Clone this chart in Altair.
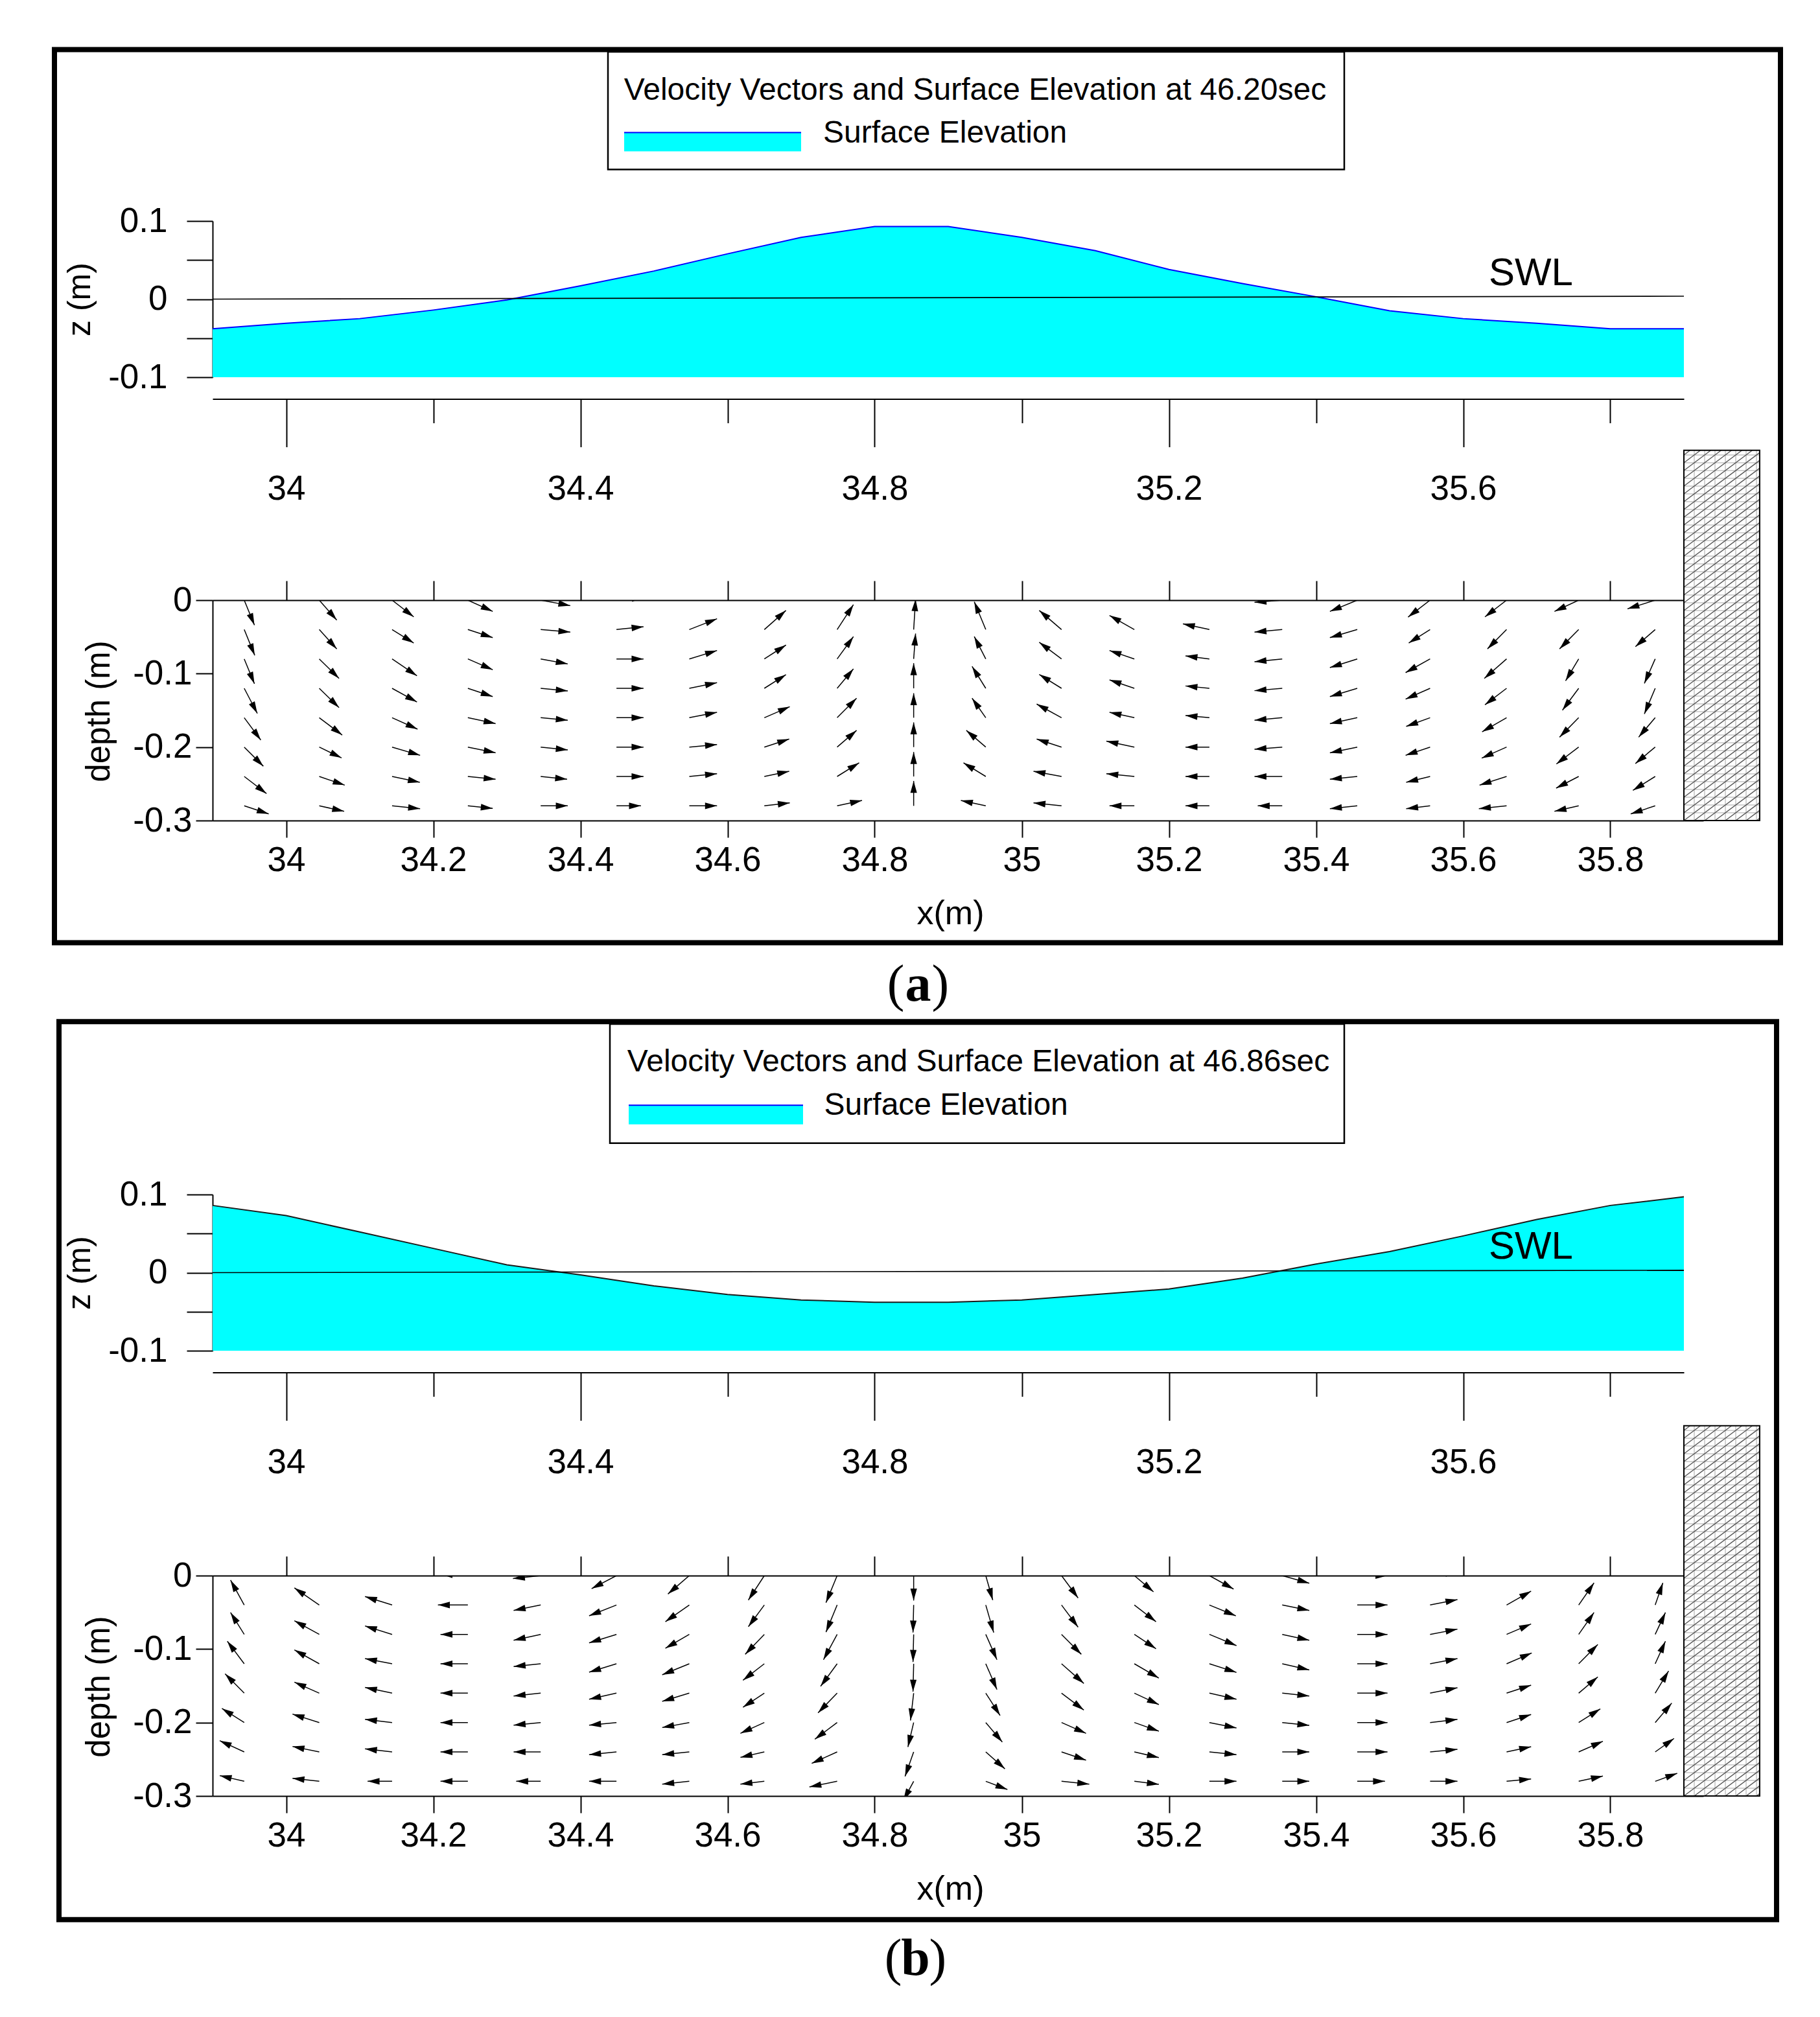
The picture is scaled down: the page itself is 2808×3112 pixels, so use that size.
import math
import numpy as np
import pandas as pd
import altair as alt

FONT = "Liberation Sans"
SERIF = "Liberation Serif"

# ---------------- data ----------------
X_SURF = [33.9, 34.0, 34.1, 34.2, 34.3, 34.4, 34.5, 34.6, 34.7, 34.8, 34.9,
          35.0, 35.1, 35.2, 35.3, 35.4, 35.5, 35.6, 35.7, 35.8, 35.9]
Z_SURF_A = [-0.038, -0.031, -0.025, -0.014, -0.001, 0.017, 0.036, 0.058, 0.079, 0.093, 0.093,
            0.079, 0.062, 0.038, 0.020, 0.003, -0.015, -0.025, -0.031, -0.038, -0.038]
Z_SURF_B = [0.086, 0.073, 0.052, 0.031, 0.010, -0.003, -0.017, -0.028, -0.035, -0.038, -0.038,
            -0.035, -0.028, -0.021, -0.007, 0.011, 0.027, 0.047, 0.068, 0.086, 0.097]

SWL_X = [33.9, 35.9]
SWL_Z_A = [0.0, 0.0037]
SWL_Z_B = [0.0, 0.0030]
SWL_LABEL_X = 35.692
SWL_LABEL_Z = 0.033

TITLE_A = "Velocity Vectors and Surface Elevation at 46.20sec"
TITLE_B = "Velocity Vectors and Surface Elevation at 46.86sec"
LEGEND_LABEL = "Surface Elevation"

COL_X = [33.943, 34.045, 34.144, 34.247, 34.346, 34.449, 34.548, 34.650, 34.749, 34.853,
         34.951, 35.054, 35.153, 35.255, 35.354, 35.456, 35.555, 35.659, 35.757, 35.861]
ROW_Z = [0.0, -0.04, -0.08, -0.12, -0.16, -0.20, -0.24, -0.28]

# arrow components (mm of plot length), rows = ROW_Z, columns = COL_X
U_A = [
    [13.9, 23.8, 29.4, 33.8, 40.3, 37.0, 37.7, 29.0, 22.0, 2.0, -15.6, -30.0, -34.0, -36.0, -37.7, -37.2, -29.9, -29.4, -32.9, -37.7],
    [14.3, 23.8, 29.4, 33.8, 40.3, 36.8, 37.7, 29.4, 22.1, 2.6, -15.6, -30.3, -33.8, -36.0, -37.7, -37.2, -29.0, -26.0, -26.0, -26.9],
    [13.9, 26.9, 33.8, 33.8, 36.8, 36.8, 37.7, 29.4, 22.1, 2.6, -15.6, -30.3, -33.8, -32.5, -37.7, -37.2, -33.3, -30.3, -17.8, -14.7],
    [17.8, 26.9, 33.8, 33.8, 36.8, 36.8, 37.7, 29.4, 22.1, 0.0, -18.6, -30.3, -33.8, -32.5, -37.7, -37.2, -33.3, -29.4, -22.1, -14.7],
    [22.5, 31.2, 34.6, 37.7, 36.8, 36.8, 37.7, 34.6, 26.4, 0.0, -18.6, -33.8, -33.8, -32.5, -37.7, -37.2, -32.5, -33.3, -26.0, -22.5],
    [26.0, 30.3, 38.1, 37.7, 36.8, 36.8, 37.7, 33.8, 26.4, 0.0, -26.4, -33.8, -38.1, -32.5, -37.7, -37.2, -33.3, -33.8, -30.3, -26.9],
    [30.3, 34.6, 37.7, 37.7, 35.9, 36.8, 37.7, 33.8, 29.9, 0.0, -30.3, -38.1, -38.1, -32.5, -37.7, -37.2, -32.5, -36.8, -30.7, -30.3],
    [33.3, 33.8, 38.1, 33.8, 36.8, 33.3, 37.7, 34.6, 33.8, 0.0, -33.8, -38.1, -33.8, -32.5, -33.3, -37.2, -32.5, -37.7, -32.9, -33.3],
]
W_A = [
    [-33.9, -27.1, -22.7, -15.3, -7.4, 4.0, 17.0, 28.0, 34.0, 41.0, 38.0, 26.0, 19.0, 8.0, -2.9, -15.3, -23.0, -22.7, -15.3, -11.8],
    [-35.1, -26.5, -18.3, -10.9, -3.5, 3.8, 14.7, 26.0, 33.9, 41.3, 37.8, 26.0, 19.2, 7.7, -3.5, -10.9, -18.3, -26.3, -26.3, -23.3],
    [-33.9, -26.5, -23.0, -14.7, -6.8, 0.0, 11.5, 18.9, 30.4, 34.5, 30.4, 22.7, 11.5, 4.1, -3.8, -11.8, -18.6, -26.5, -29.8, -33.3],
    [-34.2, -26.3, -18.6, -11.2, -3.5, 0.0, 7.7, 18.6, 26.5, 34.2, 29.8, 18.9, 11.5, 3.2, -3.2, -11.2, -14.7, -22.4, -29.8, -34.8],
    [-30.4, -23.6, -15.6, -8.0, -3.5, 0.0, 7.4, 15.0, 26.5, 33.3, 26.5, 18.6, 7.4, 3.0, -3.5, -8.0, -11.8, -19.2, -26.5, -26.5],
    [-26.0, -14.7, -11.2, -7.7, -3.8, 0.0, 3.5, 10.9, 22.7, 33.6, 22.7, 10.9, 8.0, 0.0, -2.9, -7.7, -11.2, -15.0, -23.0, -22.4],
    [-23.3, -11.8, -8.0, -3.8, -3.8, 0.0, 3.8, 7.1, 18.6, 33.3, 18.6, 7.1, 3.8, 0.0, 0.0, -3.8, -8.0, -11.8, -15.9, -18.9],
    [-10.9, -7.4, -3.8, -3.5, 0.0, 0.0, 0.0, 4.1, 7.4, 33.9, 7.4, 4.1, 0.0, 0.0, 0.0, -3.8, -3.8, -3.8, -7.4, -10.9],
]
U_B = [
    [-18.6, -33.8, -36.8, -37.0, -37.7, -33.8, -29.0, -21.7, -15.2, 0.0, 9.5, 22.5, 26.0, 32.9, 36.8, 41.0, 37.0, 33.0, 21.0, 10.0],
    [-18.6, -33.8, -36.8, -40.7, -36.8, -37.2, -32.5, -21.7, -15.2, -0.9, 10.8, 22.5, 29.4, 35.9, 36.8, 41.1, 37.2, 33.3, 20.8, 10.4],
    [-18.6, -33.8, -36.8, -37.2, -36.8, -37.2, -32.5, -26.0, -18.6, -0.9, 15.2, 26.9, 29.4, 36.8, 36.8, 41.1, 37.2, 33.3, 20.8, 13.9],
    [-23.0, -33.8, -36.8, -37.2, -36.8, -37.2, -36.8, -29.0, -22.5, -0.9, 15.2, 30.3, 33.3, 36.8, 36.8, 41.1, 37.2, 34.2, 26.0, 13.9],
    [-26.0, -33.8, -36.8, -37.2, -36.8, -37.2, -36.8, -29.0, -26.0, -4.3, 19.5, 30.3, 33.3, 36.8, 36.8, 41.1, 37.2, 33.3, 26.0, 18.2],
    [-30.3, -36.4, -36.8, -37.2, -36.8, -37.2, -36.8, -32.5, -30.3, -7.8, 22.5, 33.3, 33.3, 36.8, 36.8, 41.1, 37.2, 33.3, 29.4, 22.5],
    [-33.3, -36.4, -36.8, -37.2, -36.8, -37.2, -36.8, -32.5, -34.6, -11.7, 26.0, 33.3, 33.3, 36.8, 36.8, 41.1, 37.2, 33.3, 32.9, 25.6],
    [-33.3, -36.4, -33.3, -37.2, -33.3, -37.2, -36.8, -32.5, -37.7, -14.0, 29.4, 37.7, 33.3, 36.8, 36.8, 37.7, 37.2, 33.3, 32.9, 29.9],
]
W_B = [
    [34.0, 23.0, 11.5, 2.0, -4.0, -17.7, -25.0, -33.3, -36.9, -33.9, -33.3, -30.4, -22.1, -18.3, -10.3, 0.0, 5.0, 19.0, 30.0, 30.0],
    [33.9, 23.3, 11.5, 0.0, -7.4, -14.7, -22.7, -29.5, -36.9, -37.5, -37.5, -30.1, -22.7, -14.7, -7.4, 0.0, 7.4, 18.9, 30.1, 30.1],
    [29.8, 18.6, 11.5, 0.0, -8.0, -11.5, -18.9, -27.1, -34.5, -37.5, -34.5, -27.1, -19.5, -15.3, -8.0, 0.0, 7.1, 14.2, 29.8, 29.8],
    [30.7, 18.9, 7.1, 0.0, -3.8, -11.5, -15.0, -22.4, -30.7, -38.0, -35.1, -26.8, -19.5, -11.8, -8.3, 0.0, 7.1, 14.7, 26.3, 30.7],
    [26.3, 15.0, 7.7, 0.0, -3.8, -8.3, -11.2, -19.2, -26.8, -37.2, -30.4, -23.0, -15.6, -8.3, -3.8, 0.0, 7.4, 10.9, 22.1, 30.1],
    [19.2, 11.5, 4.4, 0.0, -3.5, -3.5, -6.8, -14.7, -22.7, -33.3, -26.5, -14.7, -11.8, -7.4, -3.8, 0.0, 4.4, 10.9, 18.6, 26.5],
    [15.3, 7.4, 4.1, 0.0, 0.0, -3.8, -3.8, -7.4, -15.6, -33.3, -23.0, -11.2, -7.7, -3.8, 0.0, 0.0, 3.5, 7.1, 14.5, 18.3],
    [7.7, 4.1, 0.0, 0.0, 0.0, 0.0, -3.8, -3.8, -7.7, -26.0, -11.2, -3.8, -4.1, 0.0, 0.0, 0.0, 0.0, 3.2, 7.1, 10.9],
]

WALL_X = [35.9, 36.003]
WALL_Z = [-0.3, 0.204]

X_MAJOR = [34.0, 34.4, 34.8, 35.2, 35.6]
X_MINOR = [34.2, 34.6, 35.0, 35.4, 35.8]
X_TICKS = [34.0, 34.2, 34.4, 34.6, 34.8, 35.0, 35.2, 35.4, 35.6, 35.8]
Z_TICKS = [0.1, 0.05, 0.0, -0.05, -0.1]
DEPTH_TICKS = [0.0, -0.1, -0.2, -0.3]

# ---------------- geometry / style ----------------
W = 2270
H_SURF = 241
H_VEC = 340
PXM_X = W / 2.0
PXM_Z = H_VEC / 0.3
ONE = pd.DataFrame({"k": [0]})
HEAD = "M0,0L0.55,2L-0.55,2Z"

XS = alt.Scale(domain=[33.9, 35.9], nice=False, zero=False)
YS_SURF = alt.Scale(domain=[-0.1, 0.1], nice=False, zero=False)
YS_VEC = alt.Scale(domain=[-0.3, 0.0], nice=False, zero=False)


def box(x1, x2, y1, y2, sw, color="black"):
    return alt.Chart(ONE).mark_rect(fillOpacity=0, stroke=color, strokeWidth=sw).encode(
        x=alt.value(x1), x2=alt.value(x2), y=alt.value(y1), y2=alt.value(y2))


def label(txt, x, y, size, align="center", font=FONT, weight="normal", baseline="middle"):
    return alt.Chart(ONE).mark_text(text=txt, font=font, fontSize=size, fontWeight=weight,
                                    align=align, baseline=baseline, color="black").encode(
        x=alt.value(x), y=alt.value(y))


def surf_chart(zvals, swl_z, title, line_color, d):
    df = pd.DataFrame({"x": X_SURF, "z": zvals})
    y_axis = alt.Axis(orient="left", values=Z_TICKS, tickSize=40, labelPadding=30, labelFontSize=53,
                      labelExpr="datum.value > 0.07 ? '0.1' : (datum.value < -0.07 ? '-0.1' : (abs(datum.value) < 0.01 ? '0' : ''))",
                      labelFlush=False, labelOverlap=False,
                      title="z (m)", titleFontSize=50, titleAngle=270, titleX=-205, titleY=120.5,
                      titleAlign="center", titleBaseline="middle")
    x_major = alt.Axis(orient="bottom", offset=33.5, values=X_MAJOR, format="~g", tickSize=74,
                       labelPadding=65, labelBaseline="middle", labelFontSize=53, labelFlush=False,
                       labelOverlap=False, title=None)
    x_minor = alt.Axis(orient="bottom", offset=33.5, values=X_MINOR, tickSize=37, labels=False,
                       domain=False, title=None)
    area = alt.Chart(df).mark_area(color="#00FFFF", opacity=1).encode(
        x=alt.X("x:Q", scale=XS, axis=x_major),
        y=alt.Y("z:Q", scale=YS_SURF, axis=y_axis),
        y2=alt.datum(-0.1))
    top = alt.Chart(df).mark_line(color=line_color, strokeWidth=2).encode(
        x=alt.X("x:Q", scale=XS, axis=None), y=alt.Y("z:Q", scale=YS_SURF, axis=None))
    swl = alt.Chart(pd.DataFrame({"x": SWL_X, "z": swl_z})).mark_line(color="black", strokeWidth=1.6).encode(
        x=alt.X("x:Q", scale=XS, axis=x_minor), y=alt.Y("z:Q", scale=YS_SURF, axis=None))
    swl_txt = alt.Chart(pd.DataFrame({"x": [SWL_LABEL_X], "z": [SWL_LABEL_Z], "t": ["SWL"]})).mark_text(
        font=FONT, fontSize=60, color="black", align="center", baseline="middle").encode(
        x=alt.X("x:Q", scale=XS, axis=None), y=alt.Y("z:Q", scale=YS_SURF, axis=None), text="t:N")
    fx1, fx2, fy1, fy2 = d["frame"]
    bx1, bx2, by1, by2 = d["box"]
    sx1, sx2, sy1, sy2 = d["swatch"]
    frame = box(fx1, fx2, fy1, fy2, 8)
    legbox = box(bx1, bx2, by1, by2, 2.5)
    swatch = alt.Chart(ONE).mark_rect(color="#00FFFF").encode(
        x=alt.value(sx1), x2=alt.value(sx2), y=alt.value(sy1), y2=alt.value(sy2))
    swatch_top = alt.Chart(ONE).mark_rule(color="#0000FF", strokeWidth=2).encode(
        x=alt.value(sx1), x2=alt.value(sx2), y=alt.value(sy1))
    ttl = label(title, d["title"][0], d["title"][1], 48)
    lab = label(LEGEND_LABEL, d["label"][0], d["label"][1], 48, align="left")
    return alt.layer(area, top, swl, swl_txt, frame, legbox, swatch, swatch_top, ttl, lab).resolve_axis(
        x="independent", y="independent").properties(width=W, height=H_SURF)


def hatch_frames():
    wpx = (WALL_X[1] - WALL_X[0]) * PXM_X
    hpx = (WALL_Z[1] - WALL_Z[0]) * PXM_Z
    grid, diag = [], []
    u = 16.0
    while u < wpx - 1:
        grid.append((u, u, 0.0, hpx))
        u += 16.0
    v = 12.0
    while v < hpx - 1:
        grid.append((0.0, wpx, v, v))
        v += 12.0
    c = -math.floor(0.75 * wpx / 12.0 + 1) * 12.0
    while c < hpx:
        u0 = max(0.0, -c / 0.75)
        u1 = min(wpx, (hpx - c) / 0.75)
        if u1 > u0:
            diag.append((u0, u1, 0.75 * u0 + c, 0.75 * u1 + c))
        c += 12.0

    def to_df(segs):
        return pd.DataFrame({
            "x": [WALL_X[0] + s[0] / PXM_X for s in segs],
            "x2": [WALL_X[0] + s[1] / PXM_X for s in segs],
            "z": [WALL_Z[0] + s[2] / PXM_Z for s in segs],
            "z2": [WALL_Z[0] + s[3] / PXM_Z for s in segs],
        })
    return to_df(grid), to_df(diag)


def vec_chart(U, Wv, cap):
    rows = []
    for r, z0 in enumerate(ROW_Z):
        for c, x0 in enumerate(COL_X):
            u = U[r][c] / 1000.0
            w = Wv[r][c] / 1000.0
            ang = (math.degrees(math.atan2(u * PXM_X, w * PXM_Z)) + 360.0) % 360.0
            rows.append({"x0": x0, "z0": z0, "x1": x0 + u, "z1": z0 + w, "ang": ang})
    adf = pd.DataFrame(rows)
    left = alt.Axis(orient="left", values=DEPTH_TICKS, tickSize=26, labelPadding=6, labelFontSize=53,
                    labelExpr="datum.value > -0.05 ? '0' : '-0.' + round(-datum.value * 10)",
                    labelFlush=False, labelOverlap=False,
                    title="depth (m)", titleFontSize=51, titleAngle=270, titleX=-175, titleY=171,
                    titleAlign="center", titleBaseline="middle")
    bottom = alt.Axis(orient="bottom", values=X_TICKS, format="~g", tickSize=26, labelPadding=35,
                      labelBaseline="middle", labelFontSize=53, labelFlush=False, labelOverlap=False,
                      title="x(m)", titleFontSize=52, titleX=1138, titleY=143,
                      titleAlign="center", titleBaseline="middle")
    topax = alt.Axis(orient="top", values=X_TICKS, tickSize=30, labels=False, title=None)
    rightax = alt.Axis(orient="right", values=DEPTH_TICKS, tickSize=30, labels=False, title=None)

    wdf = pd.DataFrame({"x": [WALL_X[0]], "x2": [WALL_X[1]], "z": [WALL_Z[0]], "z2": [WALL_Z[1]]})
    wall_fill = alt.Chart(wdf).mark_rect(color="white").encode(
        x=alt.X("x:Q", scale=XS, axis=topax), x2="x2:Q",
        y=alt.Y("z:Q", scale=YS_VEC, axis=rightax), y2="z2:Q")
    gdf, ddf = hatch_frames()
    grid = alt.Chart(gdf).mark_rule(color="#c4c4c4", strokeWidth=1.5).encode(
        x=alt.X("x:Q", scale=XS, axis=None), x2="x2:Q",
        y=alt.Y("z:Q", scale=YS_VEC, axis=None), y2="z2:Q")
    diag = alt.Chart(ddf).mark_rule(color="#555555", strokeWidth=1.4).encode(
        x=alt.X("x:Q", scale=XS, axis=None), x2="x2:Q",
        y=alt.Y("z:Q", scale=YS_VEC, axis=None), y2="z2:Q")
    wall_border = alt.Chart(wdf).mark_rect(fillOpacity=0, stroke="black", strokeWidth=2).encode(
        x=alt.X("x:Q", scale=XS, axis=None), x2="x2:Q",
        y=alt.Y("z:Q", scale=YS_VEC, axis=None), y2="z2:Q")
    shafts = alt.Chart(adf).mark_rule(color="black", strokeWidth=1.5, clip=True).encode(
        x=alt.X("x0:Q", scale=XS, axis=bottom), x2="x1:Q",
        y=alt.Y("z0:Q", scale=YS_VEC, axis=left), y2="z1:Q")
    heads = alt.Chart(adf).mark_point(shape=HEAD, filled=True, color="black", opacity=1,
                                      size=340, clip=True).encode(
        x=alt.X("x1:Q", scale=XS, axis=None), y=alt.Y("z1:Q", scale=YS_VEC, axis=None),
        angle=alt.Angle("ang:Q", scale=None))
    cx, cy, letter = cap
    c1 = label("(", cx - 21, cy, 80, align="right", font=SERIF, baseline="alphabetic")
    c2 = label(letter, cx, cy, 80, align="center", font=SERIF, weight="bold", baseline="alphabetic")
    c3 = label(")", cx + 21, cy, 80, align="left", font=SERIF, baseline="alphabetic")
    return alt.layer(wall_fill, grid, diag, wall_border, shafts, heads, c1, c2, c3).resolve_axis(
        x="independent", y="independent").properties(width=W, height=H_VEC)


def spacer(h):
    return alt.Chart(ONE).mark_point(opacity=0).encode(
        x=alt.value(0), y=alt.value(0)).properties(width=W, height=h)


DECO_A = {"frame": (-244, 2419, -264.5, 1113.5), "box": (610, 1746, -261, -79.5),
          "swatch": (635, 908, -136.5, -107.5), "title": (1176.5, -200.7), "label": (942, -134.7)}
DECO_B = {"frame": (-237, 2413, -266.8, 1118.7), "box": (613, 1746, -263, -79.3),
          "swatch": (642, 911, -137.8, -108.3), "title": (1181.5, -204.5), "label": (943.6, -136.9)}

surf_a = surf_chart(Z_SURF_A, SWL_Z_A, TITLE_A, "#0000FF", DECO_A)
vec_a = vec_chart(U_A, W_A, (1088.5, 618, "a"))
surf_b = surf_chart(Z_SURF_B, SWL_Z_B, TITLE_B, "#1a1a1a", DECO_B)
vec_b = vec_chart(U_B, W_B, (1084.5, 616, "b"))

chart = alt.vconcat(surf_a, spacer(343.5), vec_a, spacer(576.3), surf_b, spacer(347), vec_b,
                    spacing=0, bounds="flush").properties(
    padding={"left": 72, "top": 64, "right": 10, "bottom": 10}, background="white"
).configure_view(stroke=None).configure_axis(
    domainColor="black", tickColor="black", labelColor="black", titleColor="black",
    domainWidth=2, tickWidth=2, labelFont=FONT, titleFont=FONT, titleFontWeight="normal", grid=False
)

chart.save("out.html", embed_options={"renderer": "svg", "actions": False})
